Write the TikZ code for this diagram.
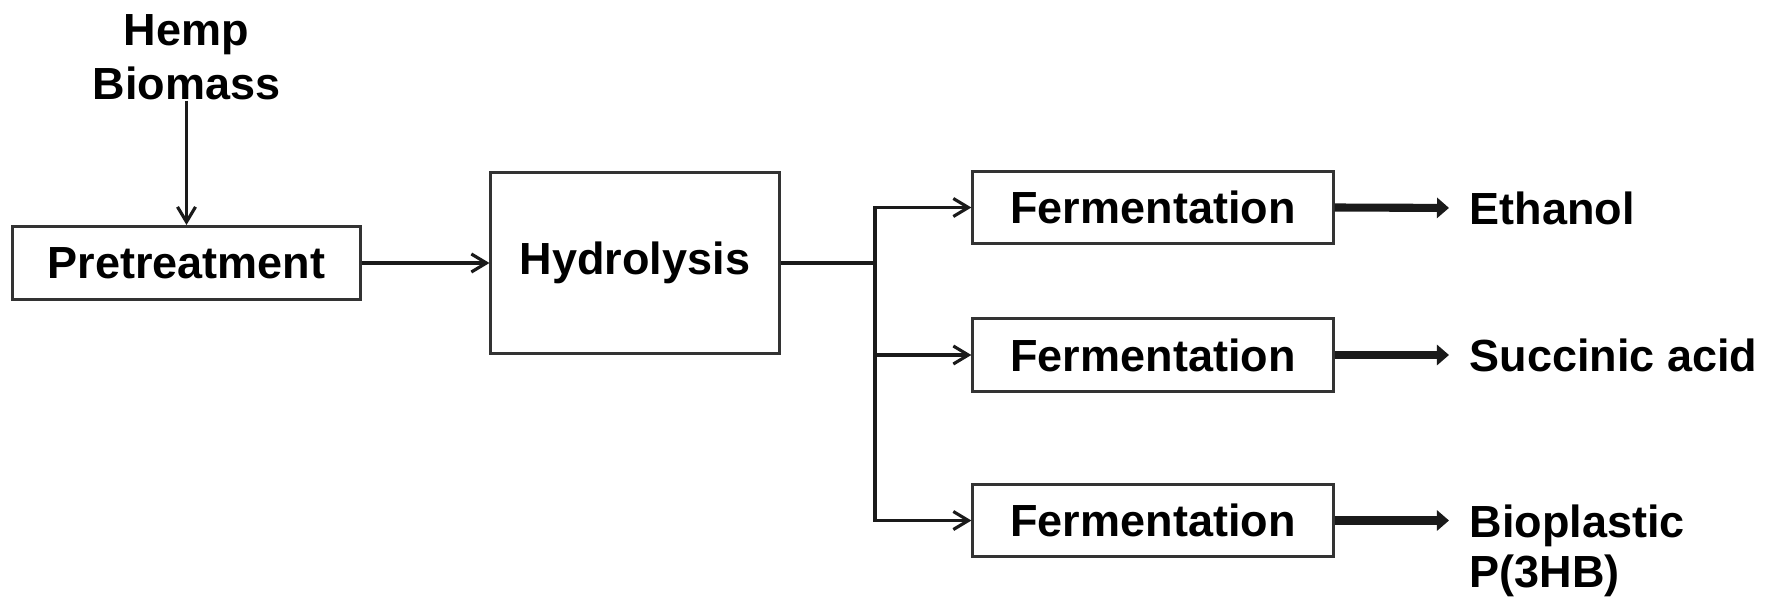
\documentclass[tikz,border=0pt]{standalone}
\usepackage{fontspec}
\setmainfont{Liberation Sans}
\usepackage{tikz}
\usetikzlibrary{arrows.meta,positioning}
\definecolor{ink}{HTML}{1A1A1A}
\definecolor{edge}{HTML}{333333}
\tikzset{
  box/.style={draw=edge,line width=0.85pt,inner sep=0pt,font=\fontsize{12.8}{15}\selectfont\bfseries},
  fbox/.style={box,minimum width=3.6cm,minimum height=0.72cm},
  lbl/.style={inner sep=0pt,align=left,font=\fontsize{12.8}{15.5}\selectfont\bfseries},
  plink/.style={ink,line width=0.9pt},
  link/.style={plink,-{Straight Barb[length=1.5mm,width=1.8mm]}},
  yield/.style={ink,line width=2.3pt,-{Triangle[length=1.2mm,width=2mm]},shorten >=2mm},
}
\begin{document}
\begin{tikzpicture}[x=0.01cm,y=-0.01cm]
  \useasboundingbox (0,0) rectangle (1775,600);
  \node[lbl,align=center] (feed) at (186.5,57) {Hemp\\Biomass};
  \node[box,minimum width=3.47cm,minimum height=0.73cm] (pre) at (186.5,263) {Pretreatment};
  \node[box,minimum width=2.88cm,minimum height=1.81cm] (hyd) at (635,263) {Hydrolysis};
  \node[fbox] (fer1) at (1153,207.5) {Fermentation};
  \node[fbox] (fer2) at (1153,355) {Fermentation};
  \node[fbox] (fer3) at (1153,520.5) {Fermentation};
  \node[lbl,anchor=west] (eth) at (1469,208) {Ethanol};
  \node[lbl,anchor=west] (suc) at (1469,355) {Succinic acid};
  \node[lbl,anchor=west,font=\fontsize{12.8}{14.2}\selectfont\bfseries] (bio) at (1469,551) {Bioplastic\\P(3HB)};
  \coordinate (split) at (875,263);
  \draw[link] (feed.south) -- (pre.north);
  \draw[link] (pre.east) -- (hyd.west);
  \draw[plink] (hyd.east) -- (split);
  \draw[link] (split) |- (fer1.west);
  \draw[link] (split |- fer2.west) -- (fer2.west);
  \draw[link] (split) |- (fer3.west);
  \draw[yield] (fer1.east) -- (eth.west);
  \draw[yield] (fer2.east) -- (suc.west);
  \draw[yield] (fer3.east) -- (fer3.east -| bio.west);
\end{tikzpicture}
\end{document}
